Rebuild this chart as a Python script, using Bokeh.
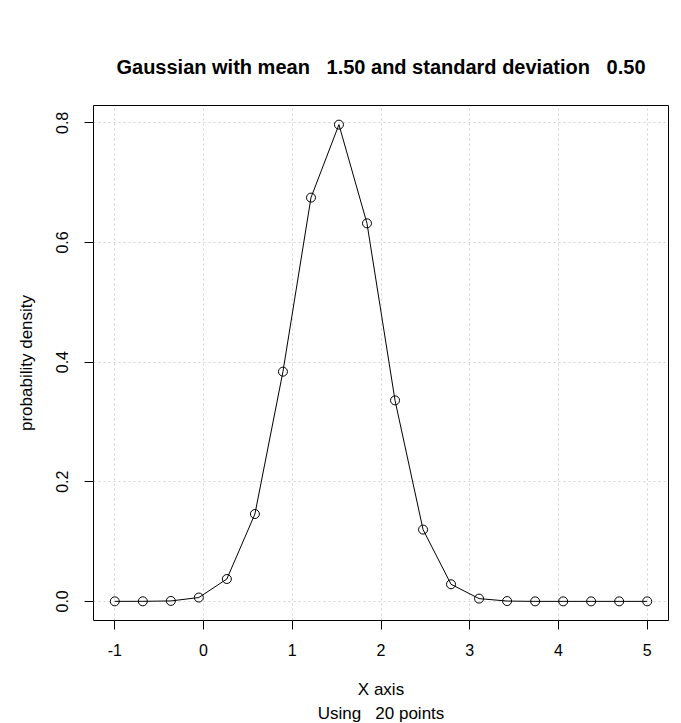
from bokeh.plotting import figure
from bokeh.models import FixedTicker, Title, Range1d, CustomJSTickFormatter
from bokeh.embed import file_html
from bokeh.resources import INLINE

# Data (20 points of a Gaussian, mean 1.5, sd 0.5)
x_vals = [-1.0, -0.684, -0.368, -0.053, 0.263, 0.579, 0.895, 1.211, 1.526, 1.842,
          2.158, 2.474, 2.789, 3.105, 3.421, 3.737, 4.053, 4.368, 4.684, 5.0]
density = [0.0000, 0.0001, 0.0007, 0.0064, 0.0374, 0.146, 0.384, 0.675, 0.797, 0.632,
           0.336, 0.120, 0.0286, 0.0046, 0.0005, 0.0000, 0.0000, 0.0000, 0.0000, 0.0000]
x_ticks = [-1, 0, 1, 2, 3, 4, 5]
y_ticks = [0.0, 0.2, 0.4, 0.6, 0.8]

NB3 = "\u00a0\u00a0\u00a0"
title_text = "Gaussian with mean" + NB3 + "1.50 and standard deviation" + NB3 + "0.50"
x_label = "X axis"
sub_label = "Using" + NB3 + "20 points"
y_label = "probability density"

FONT = "Liberation Sans"

p = figure(width=676, height=723, output_backend="svg", toolbar_location=None,
           x_range=Range1d(-1.24, 5.24), y_range=Range1d(-0.032, 0.829),
           min_border_left=93, min_border_right=8, min_border_top=105, min_border_bottom=103)

p.title.text = title_text
p.title.align = "center"
p.title.text_font = FONT
p.title.text_font_size = "20px"
p.title.text_font_style = "bold"
p.title.text_color = "black"
p.title.standoff = 56

p.outline_line_color = "black"
p.outline_line_width = 1
p.background_fill_color = "white"
p.border_fill_color = "white"

# grid
for g in (p.xgrid, p.ygrid):
    g.grid_line_color = "#d3d3d3"
    g.grid_line_dash = "2 3"
    g.grid_line_width = 1
p.xgrid.ticker = FixedTicker(ticks=x_ticks)
p.ygrid.ticker = FixedTicker(ticks=y_ticks)

# axes
p.xaxis.ticker = FixedTicker(ticks=x_ticks)
p.yaxis.ticker = FixedTicker(ticks=y_ticks)
p.xaxis.formatter = CustomJSTickFormatter(code="return tick.toFixed(0);")
p.yaxis.formatter = CustomJSTickFormatter(code="return tick.toFixed(1);")
for ax in (p.xaxis[0], p.yaxis[0]):
    ax.axis_line_color = None
    ax.major_tick_line_color = "black"
    ax.major_tick_out = 9
    ax.major_tick_in = 0
    ax.minor_tick_line_color = None
    ax.major_label_text_font = FONT
    ax.major_label_text_font_size = "16px"
    ax.major_label_text_color = "black"
    ax.axis_label_text_font = FONT
    ax.axis_label_text_font_size = "17px"
    ax.axis_label_text_font_style = "normal"
    ax.axis_label_text_color = "black"

p.xaxis.major_label_standoff = 14
p.xaxis.axis_label = x_label
p.xaxis.axis_label_standoff = 21
p.yaxis.major_label_orientation = "vertical"
p.yaxis.major_label_standoff = 16
p.yaxis.axis_label = y_label
p.yaxis.axis_label_standoff = 18

sub = Title(text=sub_label, align="center", text_font=FONT, text_font_size="17px",
            text_font_style="normal", text_color="black", standoff=0)
p.add_layout(sub, "below")

p.line(x_vals, density, line_color="black", line_width=1)
p.scatter(x_vals, density, size=9, marker="circle", fill_color=None,
          line_color="black", line_width=1)

open("out.html", "w").write(file_html(p, INLINE))
